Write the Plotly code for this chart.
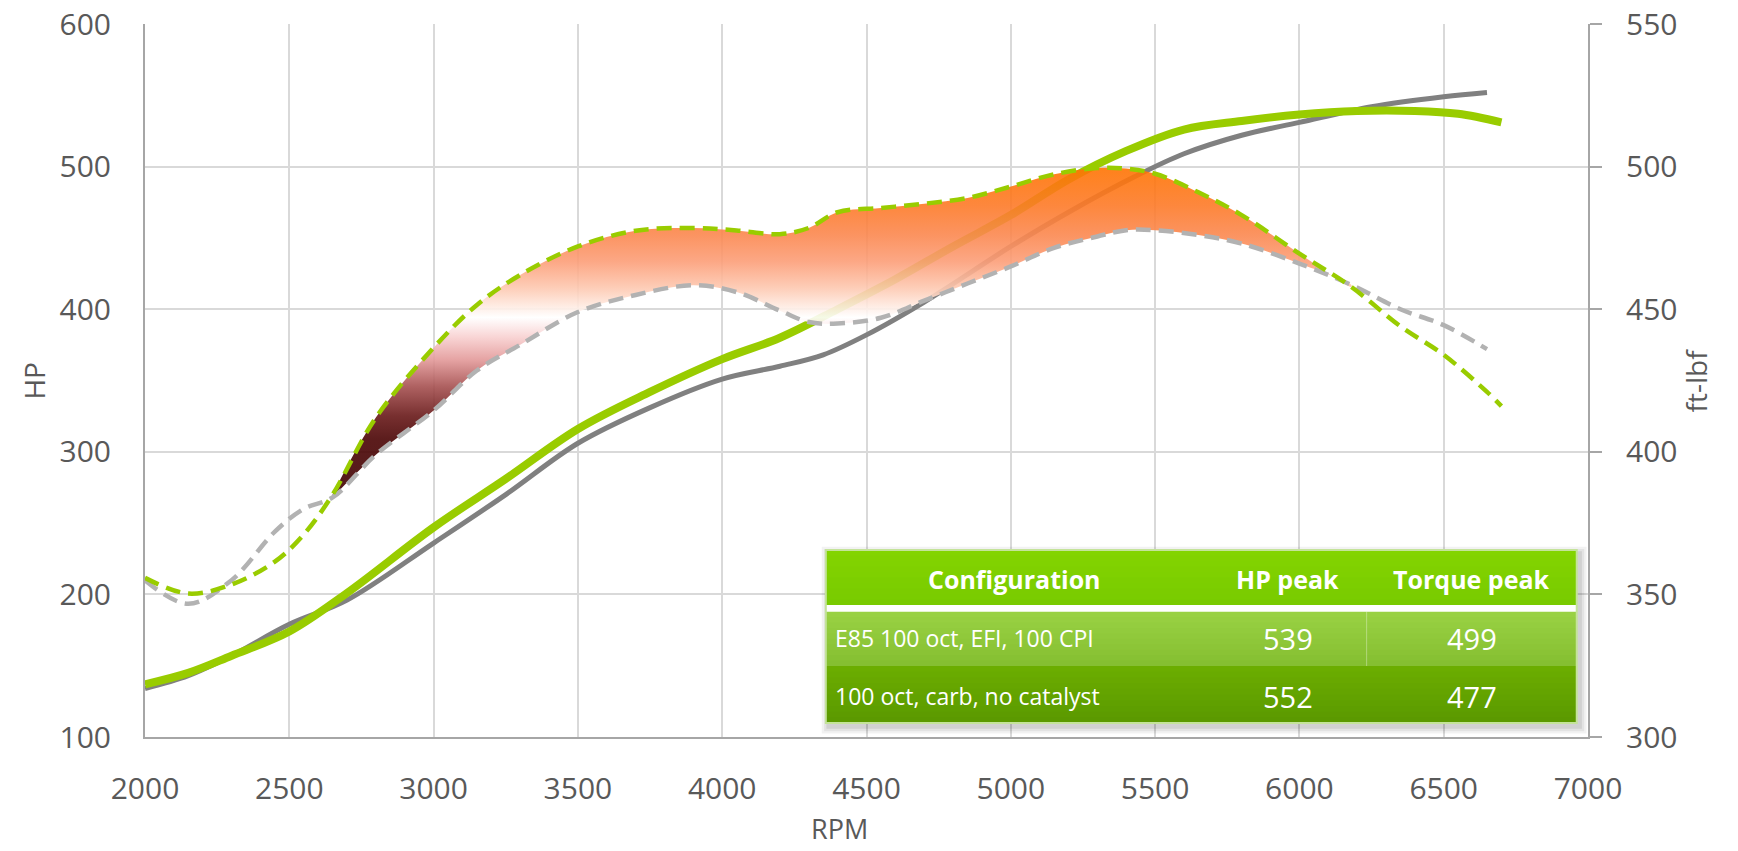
import plotly.graph_objects as go

# ---------------- data ----------------
rpm_hp_e85 = [2000, 2150, 2300, 2500, 2700, 3000, 3250, 3500, 3750, 4000, 4200, 4400,
              4600, 4800, 5000, 5200, 5400, 5600, 5800, 6000, 6200, 6400, 6550, 6700]
hp_e85 = [137, 145, 157, 174, 201, 247, 281, 316, 342, 365, 380, 400,
          421, 444, 466, 491, 511, 526, 532, 536.5, 539, 539, 537, 531]

rpm_hp_carb = [2000, 2150, 2300, 2500, 2700, 3000, 3250, 3500, 3750, 4000, 4200, 4350,
               4500, 4700, 5000, 5200, 5430, 5600, 5800, 6000, 6250, 6500, 6650]
hp_carb = [134, 143, 157, 179, 196, 236, 270, 306, 331, 351, 360, 368,
           382, 405, 444, 468, 493, 509, 522, 531, 542, 549, 552]

rpm_tq = [2000, 2150, 2300, 2450, 2550, 2650, 2800, 3000, 3150, 3300, 3500, 3700, 3900,
          4050, 4200, 4300, 4400, 4550, 4700, 4850, 5000, 5150, 5300, 5400, 5500, 5650,
          5800, 6000, 6180, 6350, 6500, 6650, 6700]
tq_e85 = [355.8, 350.3, 353.5, 361.5, 371, 385, 412, 436.5, 451.5, 462, 472, 477.5, 478.5,
          477.6, 476.3, 478.5, 484, 485.5, 487, 489, 493, 497.3, 499.5, 499.3, 497.5, 491,
          483, 469.5, 457.8, 444, 434, 421, 416]
tq_carb = [354.9, 346.7, 355, 372, 380, 384, 399, 414.5, 428.5, 437.5, 449, 455, 458.4,
           456, 449.5, 445.5, 445, 447, 453, 459, 465, 471.5, 475.5, 477.7, 477.7, 476,
           473, 466, 458.5, 450, 444.4, 436, None]

x_ticks = [2000, 2500, 3000, 3500, 4000, 4500, 5000, 5500, 6000, 6500, 7000]

table_header = ["Configuration", "HP peak", "Torque peak"]
table_configs = ["E85 100 oct, EFI, 100 CPI", "100 oct, carb, no catalyst"]
table_hp_peak = [539, 552]
table_tq_peak = [499, 477]

# ---------------- style ----------------
GREEN = "#99cc00"
GRAY = "#808080"
GRAY_D = "#b2b2b2"
TXT = "#595959"
GRID = "#d9d9d9"
AXL = "#a6a6a6"
FONT = "Open Sans"

fig = go.Figure()

# HP curves (left axis)
fig.add_trace(go.Scatter(x=rpm_hp_carb, y=hp_carb, mode="lines", name="HP carb",
                         line=dict(color=GRAY, width=5, shape="spline"), yaxis="y"))
fig.add_trace(go.Scatter(x=rpm_hp_e85, y=hp_e85, mode="lines", name="HP E85",
                         line=dict(color=GREEN, width=8, shape="spline"), yaxis="y"))

# gain band between torque curves (where E85 > carb)
idx = [i for i, r in enumerate(rpm_tq) if 2650 <= r <= 6180]
band_x = [rpm_tq[i] for i in idx] + [rpm_tq[i] for i in reversed(idx)]
band_y = [tq_e85[i] for i in idx] + [tq_carb[i] for i in reversed(idx)]
fig.add_trace(go.Scatter(
    x=band_x, y=band_y, mode="lines", fill="toself", yaxis="y2",
    line=dict(width=0, shape="spline"), opacity=0.9, hoverinfo="skip",
    fillgradient=dict(type="vertical", start=385, stop=500, colorscale=[
        [0.0, "#400000"], [0.17, "#4a0404"], [0.24, "#681818"], [0.33, "#a65050"],
        [0.41, "#e29898"], [0.48, "#f8d0d0"], [0.54, "#ffffff"], [0.63, "#fdc8b0"],
        [0.71, "#fc9e78"], [0.79, "#fb8850"], [0.88, "#fd7a28"], [1.0, "#ff7300"]]),
))

# torque curves (right axis)
fig.add_trace(go.Scatter(x=rpm_tq, y=tq_carb, mode="lines", name="Torque carb",
                         line=dict(color=GRAY_D, width=4.5, dash="15px,8px", shape="spline"),
                         yaxis="y2"))
fig.add_trace(go.Scatter(x=rpm_tq, y=tq_e85, mode="lines", name="Torque E85",
                         line=dict(color=GREEN, width=4.5, dash="15px,8px", shape="spline"),
                         yaxis="y2"))

# ---------------- table (shapes + annotations) ----------------
def hex2rgb(h):
    h = h.lstrip("#")
    return tuple(int(h[i:i + 2], 16) for i in (0, 2, 4))

def bands(x0, x1, y_top, y_bot, c_top, c_bot, n=10):
    a, b = hex2rgb(c_top), hex2rgb(c_bot)
    out = []
    for k in range(n):
        t = (k + 0.5) / n
        c = tuple(round(a[j] + (b[j] - a[j]) * t) for j in range(3))
        ya = y_top - (y_top - y_bot) * k / n
        yb = y_top - (y_top - y_bot) * (k + 1) / n
        if k == n - 1:
            yb = y_bot
        out.append(dict(type="rect", xref="x", yref="y", x0=x0, x1=x1,
                        y0=yb - (0.6 if k < n - 1 else 0), y1=ya,
                        fillcolor="rgb(%d,%d,%d)" % c, line=dict(width=0), layer="above"))
    return out

TX0, TX1 = 4359, 6961
T_TOP, H_BOT, R1_TOP, R1_BOT, T_BOT = 231.2, 192.6, 187.9, 149.8, 109.8

shapes = []
# soft shadow
for k, op in enumerate([0.05, 0.06, 0.08]):
    d = 3 - k
    shapes.append(dict(type="rect", xref="x", yref="y",
                       x0=TX0 - 8 * d + 10, x1=TX1 + 8 * d + 10,
                       y0=T_BOT - 1.6 * d - 2.5, y1=T_TOP + 1.6 * d - 2.5,
                       fillcolor="rgba(0,0,0,%.2f)" % op, line=dict(width=0), layer="above"))
shapes.append(dict(type="rect", xref="x", yref="y", x0=TX0, x1=TX1, y0=T_BOT, y1=T_TOP,
                   fillcolor="white", line=dict(width=0), layer="above"))
shapes += bands(TX0, TX1, T_TOP, H_BOT, "#84d400", "#78ca00")
shapes += bands(TX0, TX1, R1_TOP, R1_BOT, "#9ad244", "#84be30")
shapes += bands(TX0, TX1, R1_BOT, T_BOT, "#6cae00", "#5a9800")
shapes.append(dict(type="line", xref="x", yref="y", x0=6233, x1=6233, y0=R1_BOT, y1=R1_TOP,
                   line=dict(color="rgba(255,255,255,0.35)", width=1), layer="above"))
shapes.append(dict(type="rect", xref="x", yref="y", x0=TX0, x1=TX1, y0=T_BOT, y1=T_TOP,
                   fillcolor="rgba(0,0,0,0)", line=dict(color="#c4e39a", width=2),
                   layer="above"))

ann = []
col_x = [5014, 5960, 6598]
for j in range(3):
    ann.append(dict(x=col_x[j], y=210.5, xref="x", yref="y",
                    text="<b>%s</b>" % table_header[j], showarrow=False,
                    font=dict(family=FONT, size=25, color="white")))
row_y = [169.2, 128.5]
for i in range(2):
    ann.append(dict(x=4385, y=row_y[i], xref="x", yref="y", text=table_configs[i],
                    xanchor="left", showarrow=False,
                    font=dict(family=FONT, size=23, color="white")))
    ann.append(dict(x=col_x[1], y=row_y[i], xref="x", yref="y", text=str(table_hp_peak[i]),
                    showarrow=False, font=dict(family=FONT, size=29, color="white")))
    ann.append(dict(x=col_x[2], y=row_y[i], xref="x", yref="y", text=str(table_tq_peak[i]),
                    showarrow=False, font=dict(family=FONT, size=29, color="white")))

# axis titles
ann.append(dict(x=-0.0776, y=0.5, xref="paper", yref="paper", text="HP", textangle=-90,
                xanchor="center", yanchor="middle",
                showarrow=False, font=dict(family=FONT, size=28, color=TXT)))
ann.append(dict(x=1.0748, y=0.5, xref="paper", yref="paper", text="ft-lbf", textangle=-90,
                xanchor="center", yanchor="middle",
                showarrow=False, font=dict(family=FONT, size=28, color=TXT)))
ann.append(dict(x=0.481, y=-0.128, xref="paper", yref="paper", text="RPM",
                xanchor="center", yanchor="middle",
                showarrow=False, font=dict(family=FONT, size=27, color=TXT)))

fig.update_layout(
    width=1738, height=851, autosize=False,
    margin=dict(l=145, r=150, t=24, b=114),
    paper_bgcolor="white", plot_bgcolor="white",
    showlegend=False,
    font=dict(family=FONT, color=TXT),
    xaxis=dict(range=[2000, 7000], tickvals=x_ticks, showgrid=True, gridcolor=GRID,
               gridwidth=1.5, showline=True, linecolor=AXL, linewidth=2, zeroline=False,
               ticks="", tickfont=dict(family=FONT, size=30, color=TXT),
               ticklabelstandoff=24, automargin=False),
    yaxis=dict(range=[100, 600], dtick=100, showgrid=True, gridcolor=GRID, gridwidth=1.5,
               showline=True, linecolor=AXL, linewidth=2, zeroline=False, ticks="",
               tickfont=dict(family=FONT, size=30, color=TXT), ticklabelstandoff=26,
               automargin=False),
    yaxis2=dict(range=[300, 550], dtick=50, overlaying="y", side="right", showgrid=False,
                showline=True, linecolor=AXL, linewidth=2, zeroline=False,
                ticks="outside", ticklen=12, tickwidth=2, tickcolor=AXL,
                tickfont=dict(family=FONT, size=30, color=TXT), ticklabelstandoff=18,
                automargin=False),
    shapes=shapes,
    annotations=ann,
)

fig.write_html("out.html")
